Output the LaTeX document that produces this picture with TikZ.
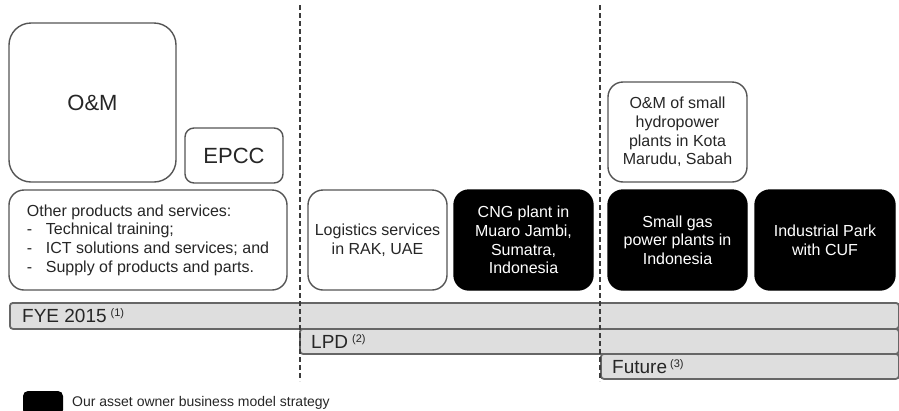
\documentclass[tikz,border=0pt]{standalone}
\usepackage{fontspec}
\setmainfont{Liberation Sans}
\definecolor{boxgray}{HTML}{555555}
\definecolor{textgray}{HTML}{262626}
\definecolor{bargray}{HTML}{666666}
\definecolor{barfill}{HTML}{DEDEDE}
\definecolor{divgray}{HTML}{3C3C3C}
\newcommand\supmark[1]{\raisebox{6pt}{\fontsize{11}{11}\selectfont #1}}
\newcommand\dashitem{\makebox[19pt][l]{-}}
\begin{document}
\begin{tikzpicture}[x=1pt,y=-1pt,
  box/.style={draw=boxgray, line width=1.4pt, rounded corners=15pt, fill=white, text=textgray,
    font=\fontsize{16}{18.6}\selectfont, align=center, inner sep=0pt},
  dark/.style={box, fill=black, draw=black, text=white},
  bigtext/.style={font=\fontsize{22}{24}\selectfont},
  bar/.style={draw=bargray, line width=1.8pt, fill=barfill, rounded corners=3pt, inner sep=0pt},
  barlabel/.style={anchor=west, font=\fontsize{19}{19}\selectfont, text=textgray, inner sep=0pt},
  divider/.style={draw=divgray, line width=1.2pt, dash pattern=on 5pt off 3pt}]
\useasboundingbox (0,0) rectangle (899,410);

% top boxes
\node[box, bigtext, rounded corners=22pt, minimum width=167pt, minimum height=159pt] (om) at (92.5,102.5) {O\&M};
\node[box, bigtext, rounded corners=9pt, minimum width=98pt, minimum height=55pt] (epcc) at (234,155.5) {EPCC};
\node[box, minimum width=139pt, minimum height=100pt] (hydro) at (677.5,132) {O\&M of small\\hydropower\\plants in Kota\\Marudu, Sabah};

% middle row
\node[box, align=left, minimum width=278pt, minimum height=100pt] (other) at (148,240)
  {Other products and services:\\ \dashitem Technical training;\\ \dashitem ICT solutions and services; and\\ \dashitem Supply of products and parts.};
\node[box, minimum width=139pt, minimum height=100pt] (logistics) at (377.5,240) {Logistics services\\in RAK, UAE};
\node[dark, minimum width=139pt, minimum height=100pt] (cng) at (523.5,240) {CNG plant in\\Muaro Jambi,\\Sumatra,\\Indonesia};
\node[dark, minimum width=139pt, minimum height=100pt] (gas) at (677.5,240) {Small gas\\power plants in\\Indonesia};
\node[dark, minimum width=140pt, minimum height=100pt] (park) at (825,240) {Industrial Park\\with CUF};

% timeline bars
\node[bar, anchor=north west, minimum width=889pt, minimum height=26pt] (fye) at (9,302) {};
\node[bar, anchor=north west, minimum width=599pt, minimum height=25pt] (lpd) at (299,328) {};
\node[bar, anchor=north west, minimum width=298pt, minimum height=25pt] (future) at (600,353) {};
\node[barlabel] (fyel) at ([xshift=13pt]fye.west) {FYE 2015\hspace{4pt}\supmark{(1)}};
\node[barlabel] (lpdl) at ([xshift=12pt]lpd.west) {LPD\hspace{4pt}\supmark{(2)}};
\node[barlabel] (futurel) at ([xshift=12pt]future.west) {Future\hspace{3pt}\supmark{(3)}};

% dividers
\coordinate (d1t) at (300,5);
\coordinate (d1b) at (300,381);
\coordinate (d2t) at (600,5);
\coordinate (d2b) at (600,381);
\draw[divider] (d1t) -- (d1b);
\draw[divider] (d2t) -- (d2b);

% legend
\node[fill=black, rounded corners=5pt, minimum width=40pt, minimum height=24pt, inner sep=0pt] (legbox) at (43,403) {};
\node[anchor=base west, font=\fontsize{14}{14}\selectfont, text=textgray, inner sep=0pt] (legtext) at (72,406) {Our asset owner business model strategy};
\end{tikzpicture}
\end{document}
